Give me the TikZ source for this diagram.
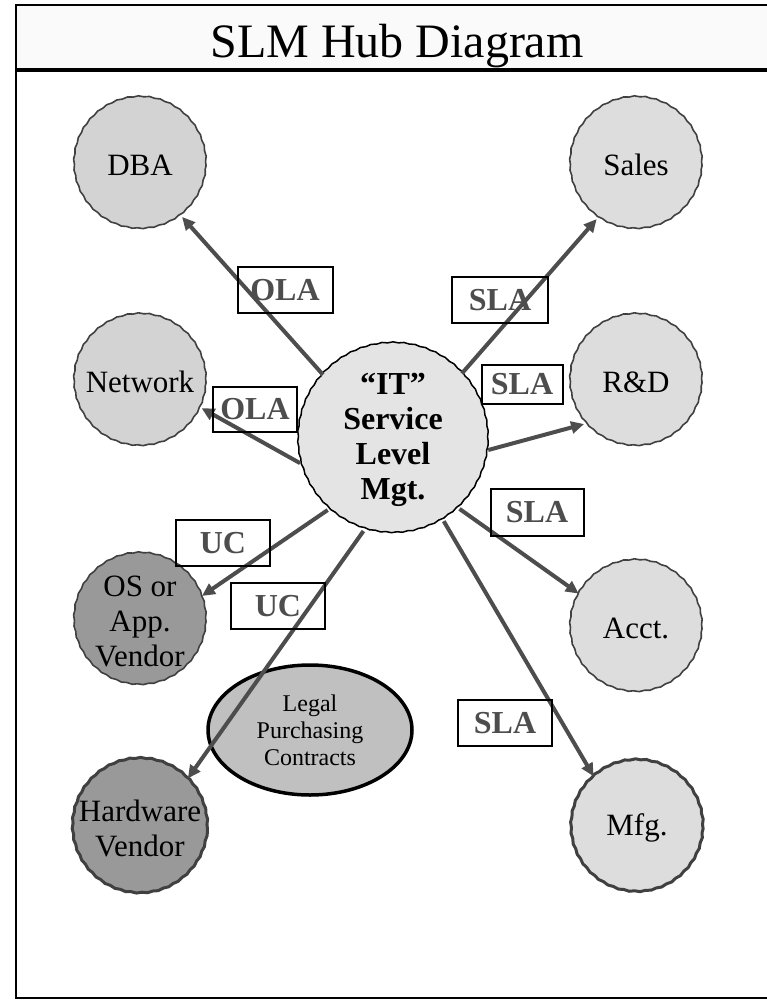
\documentclass[tikz,border=0pt]{standalone}
\usepackage{fontspec}
\setmainfont{Liberation Serif}
\usetikzlibrary{arrows.meta,shapes.geometric,decorations.pathmorphing}
\definecolor{arrowgray}{HTML}{4D4D4D}
\definecolor{circborder}{HTML}{404040}
\definecolor{fillA}{HTML}{D3D3D3}
\definecolor{fillB}{HTML}{DDDDDD}
\definecolor{fillC}{HTML}{E4E4E4}
\definecolor{fillV}{HTML}{999999}
\definecolor{fillE}{HTML}{C0C0C0}
\definecolor{titlebg}{HTML}{FAFAFA}
\begin{document}
\begin{tikzpicture}[x=1pt,y=-1pt,
  wavy/.style={decorate, decoration={snake, amplitude=0.45pt, segment length=11pt}},
  circ/.style={circle, wavy, draw=circborder, line width=1.6pt, minimum size=132pt, inner sep=0pt, align=center, font=\fontsize{31}{35}\selectfont},
  lbox/.style={draw=black, line width=2pt, minimum width=94pt, minimum height=46pt, inner sep=0pt, text=arrowgray, font=\bfseries\fontsize{32}{36}\selectfont},
  arr/.style={draw=arrowgray, line width=4pt, -{Triangle[length=13pt,width=12pt]}}
]
\useasboundingbox (0,0) rectangle (767,1005);
% frame and title bar
\fill[titlebg] (16,5) rectangle (767,70);
\draw[line width=2pt] (780,5) -- (16,5) -- (16,998) -- (780,998);
\draw[line width=4.5pt] (16,70) -- (780,70);
\node[anchor=base, font=\fontsize{48}{52}\selectfont] (title) at (397,57) {SLM Hub Diagram};
% nodes
\node[circ, fill=fillA] (dba) at (140,165) {DBA};
\node[circ, fill=fillB] (sales) at (636,165) {Sales};
\node[circ, fill=fillA] (net) at (140,382) {Network};
\node[circ, fill=fillB] (rd) at (636,382) {R\&D};
\node[circ, fill=fillV] (os) at (140,621) {OS or\\App.\\Vendor};
\node[circ, fill=fillB] (acct) at (636,628) {Acct.};
\node[circ, fill=fillV, line width=3pt] (hw) at (140,828) {Hardware\\Vendor};
\node[circ, fill=fillB, line width=3pt] (mfg) at (637,828) {Mfg.};
\node[ellipse, draw=black, line width=3.5pt, fill=fillE, minimum width=204pt, minimum height=130pt, inner sep=0pt, align=center, font=\fontsize{24}{27}\selectfont] (legal) at (310,730) {Legal\\Purchasing\\Contracts};
\node[circle, wavy, draw=black, line width=1.5pt, fill=fillC, minimum size=190pt, inner sep=0pt, align=center, font=\bfseries\fontsize{32}{35}\selectfont] (c) at (393,440) {“IT”\\Service\\Level\\Mgt.};
% arrows
\draw[arr] (c.137) -- (dba.-51);
\draw[arr] (c.194) -- (net.-23);
\draw[arr] (c.227) -- (os.22);
\draw[arr] (c.252) -- (hw.46);
\draw[arr] (c.44) -- (sales.234);
\draw[arr] (c.-6) -- (rd.219);
\draw[arr] (c.-46) -- (acct.149);
\draw[arr] (c.-58) -- (mfg.130);
% label boxes
\node[lbox, minimum width=95pt] (ola1) at (285,290) {OLA};
\node[lbox, minimum width=84pt, minimum height=45pt] (ola2) at (255,409) {OLA};
\node[lbox, minimum width=96pt] (sla1) at (500,300) {SLA};
\node[lbox, minimum width=81pt, minimum height=39pt] (sla2) at (522,384) {SLA};
\node[lbox, minimum width=93pt, minimum height=47pt] (sla3) at (537,512) {SLA};
\node[lbox, minimum height=46pt] (sla4) at (505,723) {SLA};
\node[lbox] (uc1) at (223,543) {UC};
\node[lbox, minimum width=94pt] (uc2) at (278,606) {UC};
\end{tikzpicture}
\end{document}
